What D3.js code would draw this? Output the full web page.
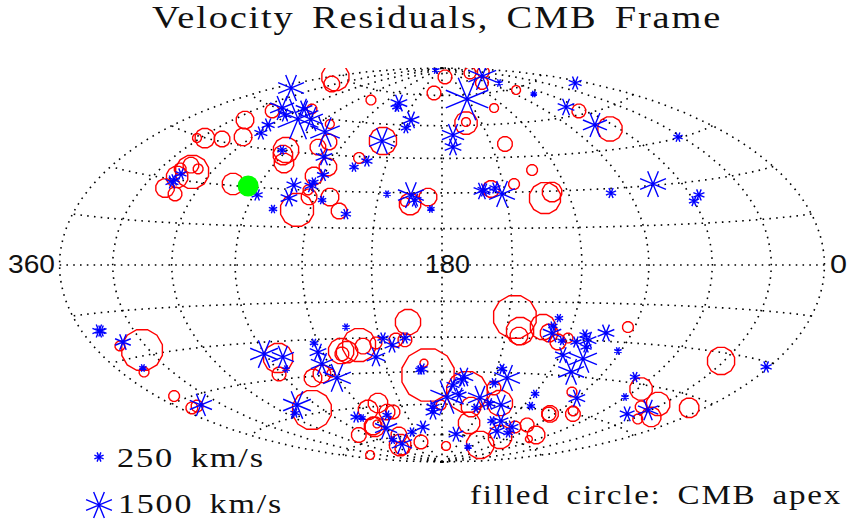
<!DOCTYPE html>
<html>
<head>
<meta charset="utf-8">
<style>
  html, body { margin: 0; background: #fff; }
  text { font-family: "Liberation Serif", serif; fill: #111; letter-spacing: 1.5px; word-spacing: 5px; }
  text.lon { font-family: "Liberation Sans", sans-serif; letter-spacing: 0; word-spacing: 0; }
</style>
<script src="https://cdn.jsdelivr.net/npm/d3@7"></script>
</head>
<body>
<svg id="vis" width="853" height="523"></svg>
<script>
// [lon, lat, km/s]
const negative = [
  [316.5,29.0,528],[316.3,29.8,389],[315.5,32.1,389],[349.5,66.2,1500],[314.8,60.4,1361],[302.5,58.4,528],
  [288.7,58.0,2611],[297.8,62.0,806],[279.7,58.8,1361],[258.5,54.4,1778],[301.7,53.8,528],[298.1,50.5,528],
  [272.9,45.3,250],[245.8,44.0,806],[240.5,36.5,458],[243.3,33.4,250],[243.8,31.8,528],[252.5,31.8,667],
  [251.9,26.5,806],[257.4,21.9,181],[235.8,26.2,181],[223.1,20.7,319],[268.1,27.1,389],[217.6,52.3,1500],
  [226.4,40.4,250],[220.9,43.2,389],[225.0,70.3,806],[223.4,68.3,250],[204.4,62.5,806],[205.7,58.6,319],
  [205.9,29.3,111],[194.6,29.0,1500],[192.5,26.9,528],[185.0,23.2,111],[256.9,88.5,111],[150.9,72.8,2750],
  [64.8,82.6,1639],[76.4,78.4,111],[71.5,71.2,42],[8.3,69.3,528],[69.5,63.8,806],[71.9,55.2,1361],
  [172.7,55.6,1222],[173.4,50.1,806],[161.0,30.7,806],[159.9,31.1,528],[154.5,31.9,389],[151.7,29.3,1500],
  [99.2,28.2,319],[32.6,45.3,250],[75.4,30.5,1500],[55.6,25.1,389],[60.1,23.1,319],[349.8,-20.4,528],
  [348.6,-20.5,389],[340.8,-24.8,736],[344.1,-33.5,111],[343.1,-48.1,1222],[270.5,-34.6,1639],[261.8,-36.3,1222],
  [265.0,-41.2,111],[224.2,-25.3,111],[242.1,-31.4,181],[242.3,-35.2,806],[243.7,-40.2,1222],[240.4,-46.4,1639],
  [282.9,-55.7,1639],[293.1,-58.5,250],[213.8,-38.2,944],[208.0,-30.2,389],[204.3,-33.2,667],[197.5,-30.3,389],
  [252.9,-63.9,389],[249.1,-64.6,111],[226.1,-64.3,250],[239.1,-70.3,1222],[251.5,-76.1,181],[249.2,-78.5,1083],
  [215.7,-73.2,250],[192.1,-44.2,250],[190.9,-43.8,389],[167.4,-47.3,944],[168.3,-48.7,528],[173.3,-51.0,528],
  [168.7,-55.6,667],[176.6,-56.6,2056],[186.8,-61.3,528],[187.3,-63.7,667],[200.2,-71.0,528],[162.2,-74.6,667],
  [125.8,-80.8,111],[154.0,-61.5,250],[154.1,-56.7,1361],[142.5,-47.3,1500],[147.3,-43.4,319],[148.9,-49.7,250],
  [145.6,-59.3,389],[136.7,-59.5,1083],[119.4,-53.6,181],[114.6,-59.0,181],[133.7,-67.2,250],[125.7,-66.9,667],
  [117.9,-71.7,667],[108.8,-69.1,528],[103.3,-71.9,250],[127.2,-21.4,181],[129.0,-24.7,250],[128.4,-27.6,944],
  [122.2,-30.7,181],[115.2,-30.9,389],[118.5,-36.5,736],[108.5,-43.2,1500],[89.9,-53.6,806],[102.6,-26.7,806],
  [109.7,-29.9,806],[112.3,-27.9,389],[109.0,-32.7,389],[106.9,-37.6,1639],[91.6,-33.5,111],[70.1,-42.7,319],
  [60.7,-50.4,111],[40.3,-55.7,667],[32.2,-52.7,1083],[1.9,-31.4,389]
];
const positive = [
  [322.1,53.5,806],[305.4,48.0,806],[316.1,45.9,667],[327.1,44.9,944],[331.8,44.3,181],[310.5,33.3,1917],
  [314.9,35.5,667],[308.8,34.6,250],[318.7,33.7,389],[316.1,30.9,1083],[317.6,26.7,875],[310.0,25.1,528],
  [283.6,30.6,1083],[355.0,73.7,1500],[332.4,72.1,667],[256.6,70.3,250],[316.9,58.6,528],[291.9,62.6,250],
  [261.6,57.9,181],[249.8,50.4,667],[253.7,47.9,667],[270.6,45.5,1361],[269.6,43.4,944],[265.2,40.3,944],
  [240.2,39.9,806],[244.8,35.9,806],[242.5,27.3,667],[244.4,30.1,250],[246.0,21.9,1917],[232.5,27.5,806],
  [226.5,21.9,667],[217.0,52.3,1500],[226.0,44.4,319],[191.2,76.2,528],[194.6,25.2,1083],[186.5,28.2,806],
  [197.0,26.1,181],[169.5,84.9,528],[61.8,85.0,389],[29.6,83.5,389],[101.2,79.9,458],[79.2,74.2,181],
  [131.0,67.6,181],[161.6,61.6,181],[161.8,61.1,1153],[141.5,50.9,597],[133.2,39.1,319],[144.8,33.4,319],
  [156.5,31.5,736],[127.6,29.6,944],[131.9,27.2,1778],[65.9,61.4,528],[66.2,52.8,1292],[344.4,-25.8,250],
  [333.9,-28.2,2472],[346.3,-34.7,250],[349.4,-43.4,319],[352.1,-47.9,389],[346.7,-48.0,389],[264.7,-36.6,1639],
  [271.3,-42.9,528],[277.9,-58.5,2333],[254.1,-45.7,806],[247.3,-44.3,806],[241.9,-44.2,111],[230.4,-35.2,1361],
  [230.6,-36.4,528],[227.6,-35.7,1083],[220.4,-32.9,1917],[218.6,-33.4,667],[211.9,-32.2,389],[202.0,-31.1,528],
  [197.7,-31.1,528],[195.4,-23.6,1361],[225.9,-58.5,944],[237.4,-61.3,944],[224.2,-62.9,667],[219.4,-63.0,528],
  [248.4,-69.2,944],[248.9,-68.7,806],[242.8,-68.0,111],[277.8,-71.5,597],[234.6,-74.1,667],[262.7,-80.3,528],
  [339.6,-78.8,181],[147.3,-21.3,2611],[143.7,-27.1,1500],[143.7,-29.2,806],[133.5,-25.2,1361],[129.8,-27.6,806],
  [124.0,-31.2,667],[119.9,-29.4,250],[187.9,-46.5,3306],[189.5,-41.2,111],[163.9,-54.1,2472],[180.7,-60.3,250],
  [147.7,-52.0,528],[138.4,-58.7,1361],[158.0,-61.1,944],[153.7,-68.8,1083],[111.0,-79.1,1500],[104.2,-74.2,1222],
  [171.7,-81.0,181],[215.0,-78.5,528],[255.2,-78.9,1083],[106.0,-68.9,389],[98.1,-67.3,528],[71.9,-70.6,806],
  [68.7,-72.7,42],[93.5,-61.4,736],[94.2,-61.5,528],[80.3,-58.8,250],[76.8,-60.0,597],[97.4,-51.4,250],
  [93.3,-24.0,319],[31.8,-32.7,1500],[58.0,-46.6,1153],[33.2,-50.1,1222],[40.3,-52.4,389],[20.9,-54.2,944],
  [26.2,-56.1,250],[9.7,-48.2,944]
];
const apex = [275.2, 30.3];
const legendSpeeds = [250, 1500];
const lonLabels = [360, 180, 0];

const width = 853, height = 523;
const cx = 442, cy = 265, halfW = 382.5, halfH = 197;

// hammer-aitoff, y stretched a little to the plot box
const stretch = (halfH / Math.SQRT2) / (halfW / (2 * Math.SQRT2));
function hammerRaw(lambda, phi) {
  const d = Math.sqrt(1 + Math.cos(phi) * Math.cos(lambda / 2));
  return [
    2 * Math.SQRT2 * Math.cos(phi) * Math.sin(lambda / 2) / d,
    stretch * Math.SQRT2 * Math.sin(phi) / d
  ];
}

const projection = d3.geoProjection(hammerRaw)
  .rotate([-180, 0])
  .reflectX(true)
  .scale(halfW / (2 * Math.SQRT2))
  .translate([cx, cy])
  .precision(0.3);

const path = d3.geoPath(projection);
const radius = d3.scaleLinear().domain([250, 1500]).range([5, 14]);

// symbols get size = r * r
const star = {
  draw(ctx, size) {
    const r = Math.sqrt(size);
    for (let k = 0; k < 4; k++) {
      const a = Math.PI / 8 + k * Math.PI / 4;
      ctx.moveTo(r * Math.cos(a), r * Math.sin(a));
      ctx.lineTo(-r * Math.cos(a), -r * Math.sin(a));
    }
  }
};
const polygon = {
  draw(ctx, size) {
    const r = Math.sqrt(size), n = 12;
    for (let k = 0; k < n; k++) {
      const a = Math.PI / n + k * 2 * Math.PI / n;
      if (k === 0) ctx.moveTo(r * Math.cos(a), r * Math.sin(a));
      else ctx.lineTo(r * Math.cos(a), r * Math.sin(a));
    }
    ctx.closePath();
  }
};

const svg = d3.select("#vis");

svg.append("clipPath").attr("id", "box")
  .append("rect")
  .attr("x", 0).attr("y", cy - halfH)
  .attr("width", width).attr("height", 2 * halfH);

const graticule = d3.geoGraticule()
  .extent([[-180, -90], [180, 90]])
  .step([30, 15])
  .precision(1);

// lon 0 sits on the outline and would double its dots
const gridLines = graticule.lines()
  .filter(l => !(l.coordinates[0][0] === 0 && l.coordinates[1][0] === 0))
  .filter(l => l.coordinates[0][0] !== 180 || l.coordinates[1][0] !== 180);

const grid = svg.append("g")
  .attr("fill", "none")
  .attr("stroke", "#000")
  .attr("stroke-width", 1.6)
  .attr("stroke-dasharray", "1.6 5.2");
grid.selectAll("path.line")
  .data(gridLines)
  .join("path")
  .attr("class", "line")
  .attr("d", path);
grid.append("path").attr("d", path({ type: "Sphere" }));

const marks = svg.append("g").attr("clip-path", "url(#box)");

function drawMarks(data, type, color) {
  marks.append("g")
    .attr("fill", "none")
    .attr("stroke", color)
    .attr("stroke-width", 1.4)
    .selectAll("path")
    .data(data)
    .join("path")
    .attr("transform", d => `translate(${projection([d[0], d[1]])})`)
    .attr("d", d => d3.symbol(type, radius(d[2]) ** 2)());
}

drawMarks(positive, polygon, "#ff0000");
drawMarks(negative, star, "#0000ff");

marks.append("circle")
  .attr("transform", `translate(${projection(apex)})`)
  .attr("r", 10.5)
  .attr("fill", "#00ff00");

function label(text, x, y, size, length) {
  return svg.append("text")
    .attr("x", x)
    .attr("y", y)
    .attr("font-size", size)
    .attr("textLength", length)
    .attr("lengthAdjust", "spacingAndGlyphs")
    .text(text);
}

label("Velocity Residuals, CMB Frame", 152, 28, 32, 570);

const lonX = d3.scaleOrdinal().domain(lonLabels).range([8, 425, 830]);
const lonW = d3.scaleOrdinal().domain(lonLabels).range([47, 45, 17]);
lonLabels.forEach(l => label(String(l), lonX(l), 273, 26, lonW(l)).attr("class", "lon"));

// legend
const legendY = d3.scaleOrdinal().domain(legendSpeeds).range([457, 505]);
legendSpeeds.forEach(v => {
  svg.append("path")
    .attr("transform", `translate(99,${legendY(v)})`)
    .attr("d", d3.symbol(star, radius(v) ** 2)())
    .attr("fill", "none")
    .attr("stroke", "#0000ff")
    .attr("stroke-width", 1.4);
});
label("250 km/s", 117, 467, 28, 148);
label("1500 km/s", 118, 513, 28, 165);

label("filled circle: CMB apex", 470, 504, 28, 372);
</script>
</body>
</html>
